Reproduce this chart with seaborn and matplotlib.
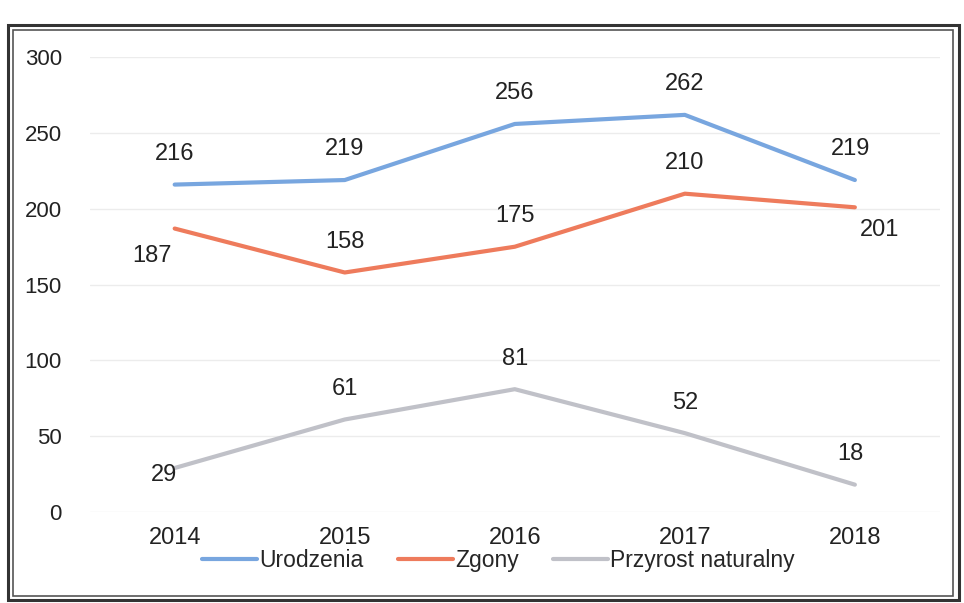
import pandas as pd
import matplotlib.pyplot as plt
import seaborn as sns
from matplotlib.patches import Rectangle

# data
years = ['2014', '2015', '2016', '2017', '2018']
urodzenia = [216, 219, 256, 262, 219]
zgony = [187, 158, 175, 210, 201]
przyrost = [29, 61, 81, 52, 18]
series_names = ['Urodzenia', 'Zgony', 'Przyrost naturalny']
colors = ['#78a6df', '#ee7b5c', '#c0c1c8']

df = pd.DataFrame({
    'rok': years * 3,
    'wartosc': urodzenia + zgony + przyrost,
    'seria': [s for s in series_names for _ in years],
})

sns.set_theme(style='white')
plt.rcParams['font.family'] = ['Liberation Sans', 'DejaVu Sans']

fig = plt.figure(figsize=(9.64, 6.03), dpi=100)
ax = fig.add_axes([0.093, 0.151, 0.882, 0.754])

sns.lineplot(data=df, x='rok', y='wartosc', hue='seria', palette=colors,
             linewidth=3, sort=False, ax=ax, legend=False)
for ln in ax.lines:
    ln.set_solid_capstyle('round')

ax.set_xlim(-0.5, 4.5)
ax.set_ylim(0, 300)
ax.set_yticks(range(0, 301, 50))
ax.yaxis.grid(True, color='#ececec', linewidth=1)
for s in ax.spines.values():
    s.set_visible(False)
ax.set_xlabel('')
ax.set_ylabel('')
ax.tick_params(axis='y', labelsize=16, pad=20, colors='#222222', length=0)
ax.tick_params(axis='x', labelsize=17, pad=11, colors='#222222', length=0)

# data labels: (dx, dy) offset in points
offsets = {
    'Urodzenia': [(0, 22), (0, 22), (0, 22), (0, 22), (-3, 22)],
    'Zgony': [(-16, -20), (0, 22), (0, 22), (0, 22), (18, -16)],
    'Przyrost naturalny': [(-8, -5), (0, 22), (0, 22), (0, 22), (-3, 22)],
}
for name, vals in zip(series_names, [urodzenia, zgony, przyrost]):
    for i, v in enumerate(vals):
        dx, dy = offsets[name][i]
        ax.annotate(str(v), (i, v), xytext=(dx, dy), textcoords='offset points',
                    ha='center', va='center', fontsize=17, color='#222222')

# legend below the axis
handles = [plt.Line2D([], [], color=c, linewidth=3, solid_capstyle='round') for c in colors]
fig.legend(handles, series_names, loc='center', bbox_to_anchor=(0.517, 0.07),
           ncol=3, frameon=False, fontsize=16.5, handlelength=2.4,
           handletextpad=0.1, columnspacing=1.5)

# double frame of the scanned chart box
fig.patches.append(Rectangle((0.008, 0.005), 0.987, 0.953, transform=fig.transFigure,
                             fill=False, edgecolor='#333333', linewidth=2.2))
fig.patches.append(Rectangle((0.014, 0.012), 0.975, 0.939, transform=fig.transFigure,
                             fill=False, edgecolor='#555555', linewidth=1.2))

fig.savefig('out.png', dpi=100)
